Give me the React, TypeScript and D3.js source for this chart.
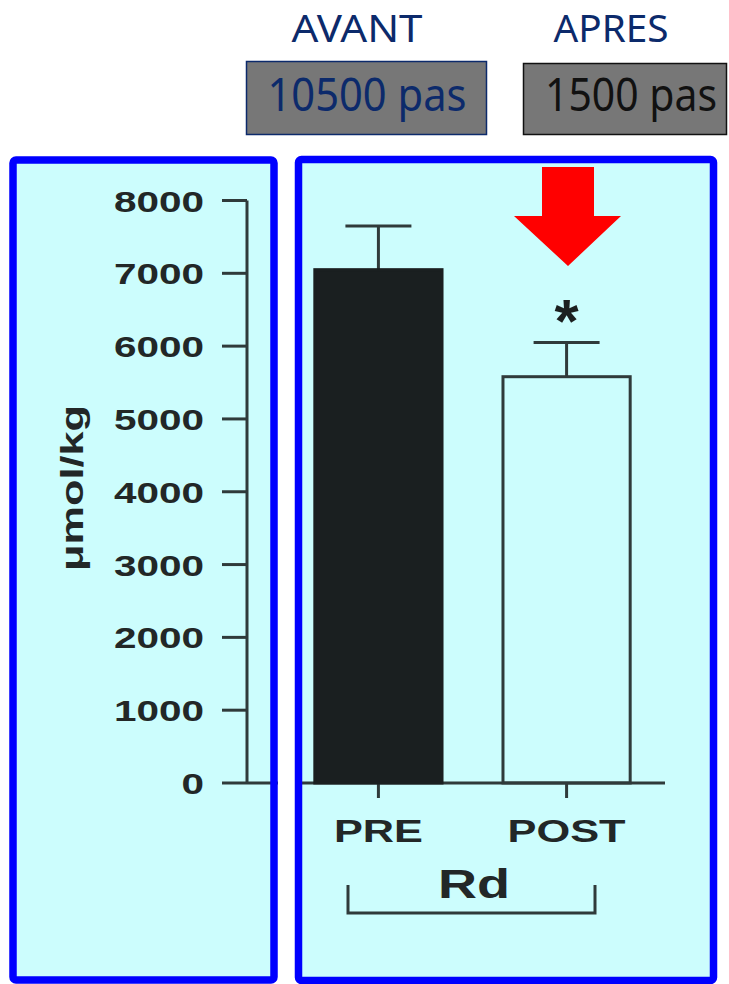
import * as d3 from "d3";

// chart values
const categories = ["PRE", "POST"];
const means = [7050, 5580];
const sems = [600, 470];
const yTicks = [0, 1000, 2000, 3000, 4000, 5000, 6000, 7000, 8000];
const yLabel = "μmol/kg";
const groupLabel = "Rd";
const headers = ["AVANT", "APRES"];
const steps = ["10500 pas", "1500 pas"];

const W = 729;
const H = 984;
const cyan = "#ccfdfd";
const blue = "#0000ff";
const navy = "#0c2a6b";
const ink = "#2f3a3a";
const barInk = "#1a1f20";
const textInk = "#222727";
const chartFont = "'Liberation Sans', Arial, sans-serif";
const headFont = "'Comic Sans MS', 'Noto Sans', sans-serif";

const App = () => {
    const y = d3.scaleLinear([0, 8000], [783, 200.5]);
    const x = d3.scaleBand(categories, [296, 649]).paddingInner(0.324).paddingOuter(0.1);
    const axisX = 247;

    return (
        <svg width={W} height={H} style={{position: "absolute", left: 0, top: 0, background: "white"}}>
            {/* headers */}
            <text x={357} y={42} textAnchor="middle" fontFamily={headFont} fontSize={38} fill={navy}
                textLength={131} lengthAdjust="spacingAndGlyphs">{headers[0]}</text>
            <text x={611} y={42} textAnchor="middle" fontFamily={headFont} fontSize={38} fill={navy}
                textLength={115} lengthAdjust="spacingAndGlyphs">{headers[1]}</text>
            <rect x={246.5} y={61.5} width={240} height={73} fill="#777777" stroke={navy} strokeWidth={1.5} />
            <text x={367} y={111} textAnchor="middle" fontFamily={headFont} fontSize={45} fill={navy}
                textLength={199} lengthAdjust="spacingAndGlyphs">{steps[0]}</text>
            <rect x={523.5} y={63.5} width={203} height={71} fill="#777777" stroke="#111" strokeWidth={1.5} />
            <text x={631} y={111} textAnchor="middle" fontFamily={headFont} fontSize={45} fill="#111"
                textLength={172} lengthAdjust="spacingAndGlyphs">{steps[1]}</text>

            {/* panel backgrounds */}
            <rect x={13} y={160} width={261} height={820} rx={3} fill={cyan} />
            <rect x={298.5} y={159.5} width={415} height={821} rx={3} fill={cyan} />

            {/* y axis */}
            <line x1={axisX} x2={axisX} y1={y(8000)} y2={y(0)} stroke={ink} strokeWidth={3} />
            {yTicks.map(t => (
                <g key={t}>
                    <line x1={222} x2={axisX} y1={y(t)} y2={y(t)} stroke={ink} strokeWidth={3} />
                    <text x={204} y={y(t) + 11} textAnchor="end" fontFamily={chartFont} fontWeight="bold"
                        fontSize={30} fill={textInk} textLength={String(t).length * 22.5}
                        lengthAdjust="spacingAndGlyphs">{t}</text>
                </g>
            ))}
            <text transform="translate(83,488) rotate(-90)" textAnchor="middle" fontFamily={chartFont}
                fontWeight="bold" fontSize={31} fill={textInk} textLength={166}
                lengthAdjust="spacingAndGlyphs">{yLabel}</text>

            {/* x axis */}
            <line x1={axisX} x2={665} y1={y(0)} y2={y(0)} stroke={ink} strokeWidth={3} />
            {categories.map(c => (
                <line key={c} x1={x(c) + x.bandwidth() / 2} x2={x(c) + x.bandwidth() / 2}
                    y1={y(0)} y2={y(0) + 15} stroke={ink} strokeWidth={3} />
            ))}

            {/* bars and error bars */}
            {categories.map((c, i) => {
                const cx = x(c) + x.bandwidth() / 2;
                return (
                    <g key={c}>
                        <line x1={cx} x2={cx} y1={y(means[i])} y2={y(means[i] + sems[i])} stroke={ink} strokeWidth={3} />
                        <line x1={cx - 33} x2={cx + 33} y1={y(means[i] + sems[i])} y2={y(means[i] + sems[i])}
                            stroke={ink} strokeWidth={3} />
                        <rect x={x(c)} y={y(means[i])} width={x.bandwidth()} height={y(0) - y(means[i])}
                            fill={i === 0 ? barInk : "none"} stroke={i === 0 ? barInk : ink} strokeWidth={3} />
                    </g>
                );
            })}
            {categories.map((c, i) => (
                <text key={c} x={x(c) + x.bandwidth() / 2} y={842} textAnchor="middle" fontFamily={chartFont}
                    fontWeight="bold" fontSize={32} fill={textInk} textLength={i === 0 ? 89 : 118}
                    lengthAdjust="spacingAndGlyphs">{c}</text>
            ))}

            {/* significance star */}
            <text x={x("POST") + x.bandwidth() / 2} y={342} textAnchor="middle" fontFamily={chartFont}
                fontWeight="bold" fontSize={62} fill="#1c2020">*</text>

            {/* group bracket */}
            <text x={474} y={898} textAnchor="middle" fontFamily={chartFont} fontWeight="bold" fontSize={41}
                fill={textInk} textLength={72} lengthAdjust="spacingAndGlyphs">{groupLabel}</text>
            <path d="M348,885V913H595V885" fill="none" stroke={ink} strokeWidth={3} />

            {/* red arrow */}
            <path d="M542,167H594V216H621L568,266L514,216H542Z" fill="#ff0000" />

            {/* gap between panels and blue frames */}
            <rect x={278} y={150} width={17} height={834} fill="white" />
            <rect x={13} y={160} width={261} height={820} rx={3} fill="none" stroke={blue} strokeWidth={7.5} />
            <rect x={298.5} y={159.5} width={415} height={821} rx={3} fill="none" stroke={blue} strokeWidth={7.5} />
        </svg>
    );
};

export default App;
